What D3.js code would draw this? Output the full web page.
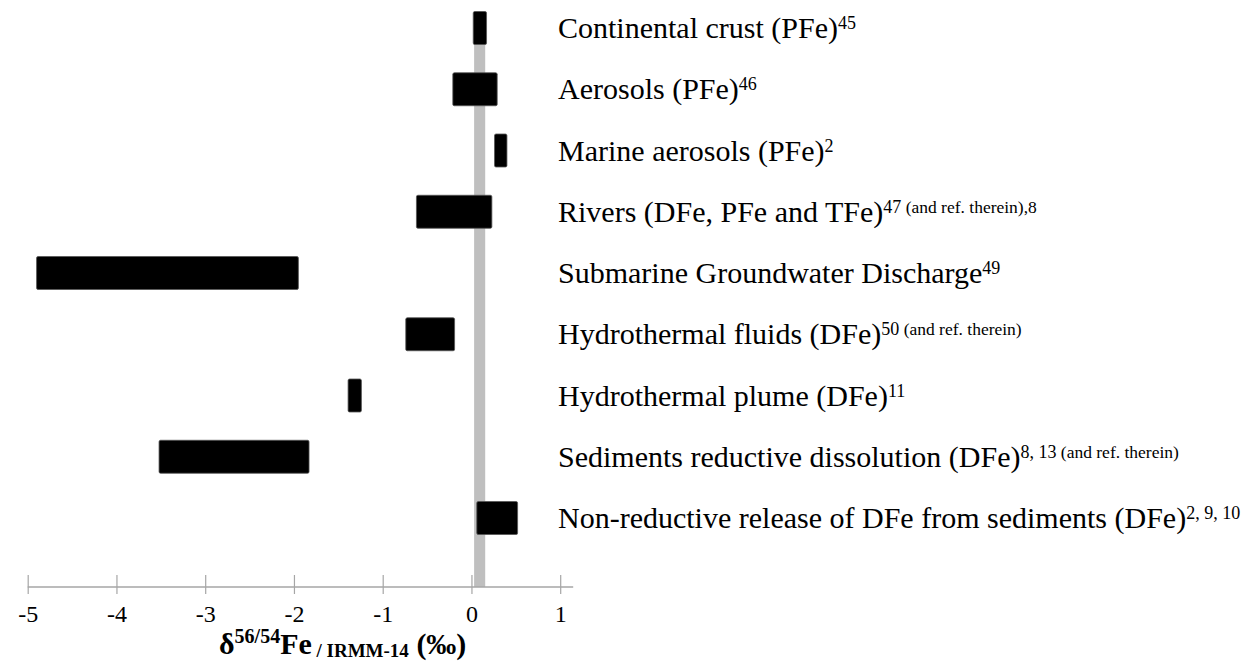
<!DOCTYPE html>
<html>
<head>
<meta charset="utf-8">
<script src="https://cdn.jsdelivr.net/npm/d3@7"></script>
<style>
  body { margin: 0; background: #fff; }
  svg { display: block; }
  text { font-family: "Liberation Serif", "Times New Roman", serif; fill: #000; }
</style>
</head>
<body>
<svg id="chart" width="1245" height="664"></svg>
<script>
// Iron sources and their δ56/54Fe ranges (‰)
const sources = [
  "Continental crust (PFe)",
  "Aerosols (PFe)",
  "Marine aerosols (PFe)",
  "Rivers (DFe, PFe and TFe)",
  "Submarine Groundwater Discharge",
  "Hydrothermal fluids (DFe)",
  "Hydrothermal plume (DFe)",
  "Sediments reductive dissolution (DFe)",
  "Non-reductive release of DFe from sediments (DFe)"
];
const refNumbers = ["45", "46", "2", "47", "49", "50", "11", "8, 13", "2, 9, 10"];
const refNotes = ["", "", "", " (and ref. therein),8", "", " (and ref. therein)", "", " (and ref. therein)", ""];
const lowValues  = [0.02, -0.21, 0.26, -0.62, -4.90, -0.74, -1.39, -3.52, 0.06];
const highValues = [0.17,  0.29, 0.40,  0.23, -1.95, -0.19, -1.24, -1.83, 0.52];
const crustBand = [0.03, 0.155];
const xTicks = [-5, -4, -3, -2, -1, 0, 1];

const svg = d3.select("#chart");

const x = d3.scaleLinear().domain([-5, 1]).range([27.7, 560.2]);
const y = d3.scalePoint().domain(sources).range([28, 518]);
const barH = 33;
const axisY = 587;
const serif = "'Liberation Serif', 'Times New Roman', serif";

const rows = sources.map((s, i) => ({
  name: s, ref: refNumbers[i], note: refNotes[i], lo: lowValues[i], hi: highValues[i]
}));

// vertical reference band
svg.append("rect")
  .attr("x", x(crustBand[0]))
  .attr("width", x(crustBand[1]) - x(crustBand[0]))
  .attr("y", y(sources[0]) - barH / 2)
  .attr("height", axisY - (y(sources[0]) - barH / 2))
  .attr("fill", "#bfbfbf");

// range bars
svg.append("g").selectAll("rect").data(rows).join("rect")
  .attr("x", d => x(d.lo))
  .attr("width", d => x(d.hi) - x(d.lo))
  .attr("y", d => y(d.name) - barH / 2)
  .attr("height", barH)
  .attr("rx", 1.5)
  .attr("fill", "#000")
  .attr("stroke", "#555")
  .attr("stroke-width", 0.8);

// source labels with superscript references
const labels = svg.append("g").selectAll("text").data(rows).join("text")
  .attr("x", 558)
  .attr("y", d => y(d.name) + 10)
  .style("font-size", "30px");
labels.append("tspan").text(d => d.name);
labels.append("tspan")
  .attr("dy", -9)
  .style("font-size", "18px")
  .text(d => d.ref);
labels.append("tspan")
  .style("font-size", "17.5px")
  .text(d => d.note);

// x axis
svg.append("line")
  .attr("x1", x(-5)).attr("x2", x(1) + 13)
  .attr("y1", axisY).attr("y2", axisY)
  .attr("stroke", "#a6a6a6").attr("stroke-width", 1.5);

const axis = svg.append("g")
  .attr("transform", `translate(0,${axisY})`)
  .call(d3.axisBottom(x).tickValues(xTicks).tickFormat(d => String(d)).tickSizeInner(7).tickSizeOuter(0));
axis.attr("font-family", serif).attr("font-size", 24);
axis.select(".domain").remove();
axis.selectAll(".tick line").attr("y1", -12).attr("y2", 7).attr("stroke", "#a6a6a6").attr("stroke-width", 1.2);
axis.selectAll(".tick text")
  .attr("y", 35).attr("dy", 0)
  .attr("fill", "#000")
  .style("font-family", serif)
  .style("font-size", "24px");

// axis title
const title = svg.append("text")
  .attr("x", 219).attr("y", 654)
  .style("font-weight", "bold")
  .style("font-size", "30px");
title.append("tspan").text("δ");
title.append("tspan").attr("dy", -11).style("font-size", "20px").text("56/54");
title.append("tspan").attr("dy", 11).text("Fe");
title.append("tspan").attr("dy", 3).style("font-size", "19px").text(" / IRMM-14");
title.append("tspan").attr("dy", -3).text(" (‰)");
</script>
</body>
</html>
